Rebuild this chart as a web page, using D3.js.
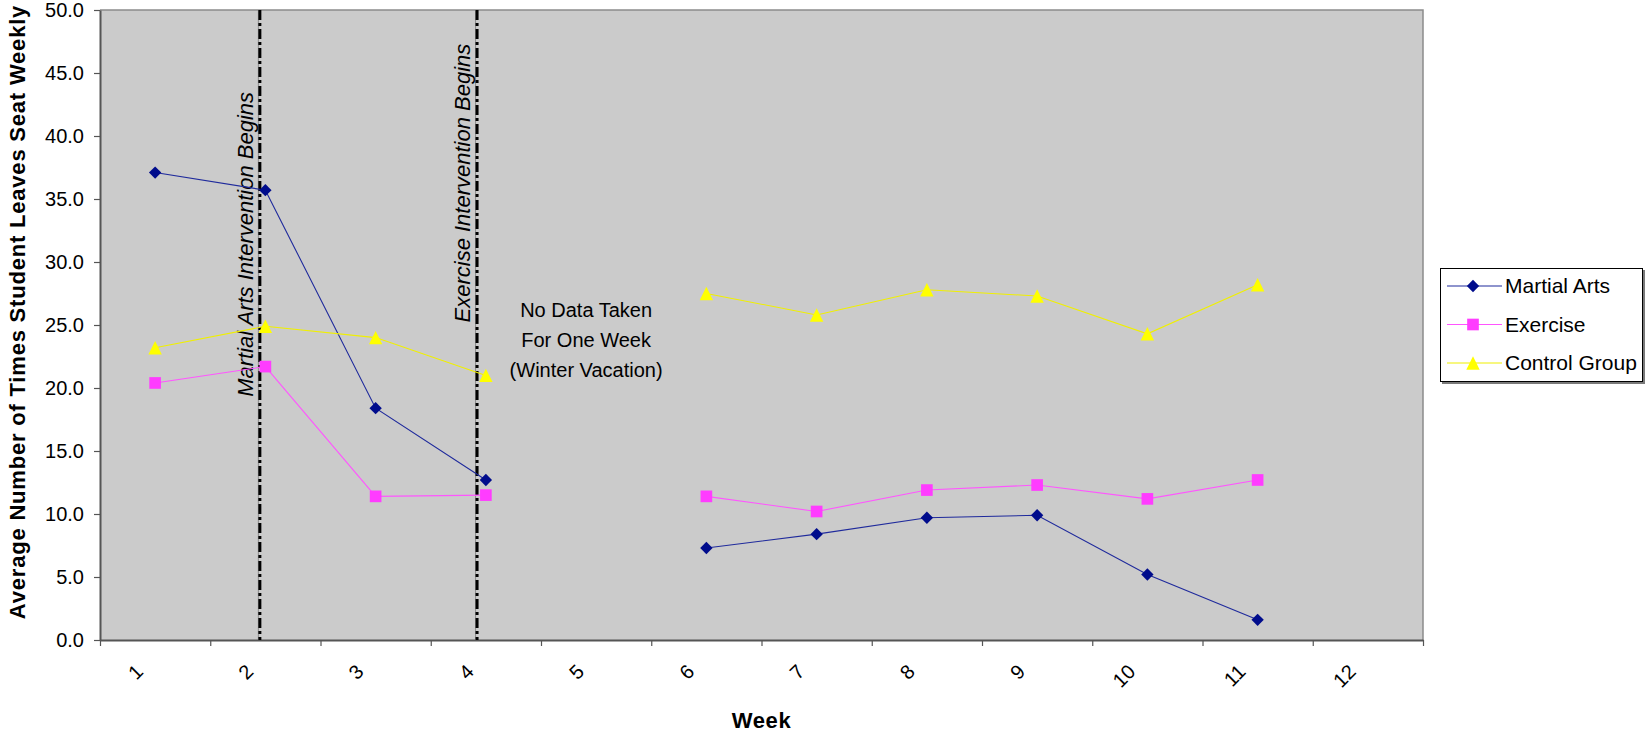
<!DOCTYPE html>
<html>
<head>
<meta charset="utf-8">
<script src="https://cdn.jsdelivr.net/npm/d3@7"></script>
<style>
  html, body { margin: 0; padding: 0; background: #ffffff; }
  svg { display: block; font-family: "Liberation Sans", Arial, Helvetica, sans-serif; }
</style>
</head>
<body>
<svg id="chart" width="1648" height="735"></svg>
<script>
// Weekly seat-leaving counts for three groups (week 5: no data, winter vacation)
const weeks = [1, 2, 3, 4, 5, 6, 7, 8, 9, 10, 11, 12];
const martialArts  = [37.1, 35.7, 18.4, 12.7, null, 7.3, 8.4, 9.7, 9.9, 5.2, 1.6, null];
const exercise     = [20.4, 21.7, 11.4, 11.5, null, 11.4, 10.2, 11.9, 12.3, 11.2, 12.7, null];
const controlGroup = [23.2, 24.9, 24.0, 21.0, null, 27.5, 25.8, 27.8, 27.3, 24.3, 28.2, null];
const seriesNames  = ["Martial Arts", "Exercise", "Control Group"];
const yTicks = [0, 5, 10, 15, 20, 25, 30, 35, 40, 45, 50];

// Intervention start markers (positions on the week axis) and their labels
const interventionWeeks  = [1.95, 3.92];
const interventionLabels = ["Martial Arts Intervention Begins", "Exercise Intervention Begins"];
const interventionLabelAt = [19.3, 25.2];
const gapNote = ["No Data Taken", "For One Week", "(Winter Vacation)"];

const svg = d3.select("#chart");
const plot = { left: 100, right: 1423, top: 10, bottom: 640 };

// Week position: integer weeks sit at the centre of their category slot
const x = d3.scaleLinear().domain([0.5, 12.5]).range([plot.left, plot.right]);
const y = d3.scaleLinear().domain([0, 50]).range([plot.bottom, plot.top]);

// Plot area
svg.append("rect")
  .attr("x", plot.left).attr("y", plot.top)
  .attr("width", plot.right - plot.left).attr("height", plot.bottom - plot.top)
  .attr("fill", "#cbcbcb");
svg.append("path")
  .attr("d", `M${plot.left},${plot.top}H${plot.right}V${plot.bottom}`)
  .attr("fill", "none").attr("stroke", "#8c8c8c").attr("stroke-width", 1.5);

// Y axis
const yAxis = svg.append("g")
  .attr("transform", `translate(${plot.left},0)`)
  .call(d3.axisLeft(y).tickValues(yTicks).tickFormat(d3.format(".1f")).tickSize(6).tickSizeOuter(0));
yAxis.select(".domain").attr("stroke", "#555").attr("stroke-width", 2);
yAxis.selectAll(".tick line").attr("stroke", "#555").attr("stroke-width", 1.2);
yAxis.selectAll(".tick text")
  .attr("x", -16).attr("dy", "0.32em")
  .attr("font-size", 20).attr("fill", "#000")
  .attr("font-family", "Liberation Sans, Arial, sans-serif");

// X axis: tick marks on category boundaries, labels at category centres
const boundaries = d3.range(0.5, 12.51, 1);
const xAxis = svg.append("g")
  .attr("transform", `translate(0,${plot.bottom})`)
  .call(d3.axisBottom(x).tickValues(boundaries).tickFormat("").tickSize(6).tickSizeOuter(0));
xAxis.select(".domain").attr("stroke", "#555").attr("stroke-width", 2);
xAxis.selectAll(".tick line").attr("stroke", "#555").attr("stroke-width", 1.2);

svg.append("g").selectAll("text")
  .data(weeks).join("text")
  .attr("transform", d => `translate(${x(d) - 10.7},${plot.bottom + 33}) rotate(-45)`)
  .attr("text-anchor", "end")
  .attr("font-size", 20).attr("fill", "#000")
  .text(d => d);

// Axis titles
svg.append("text")
  .attr("x", (plot.left + plot.right) / 2).attr("y", 728)
  .attr("text-anchor", "middle").attr("font-weight", "bold").attr("font-size", 22)
  .attr("letter-spacing", 0.6)
  .text("Week");
svg.append("text")
  .attr("transform", "translate(25,312) rotate(-90)")
  .attr("text-anchor", "middle").attr("font-weight", "bold").attr("font-size", 22)
  .attr("letter-spacing", 0.8)
  .text("Average Number of Times Student Leaves Seat Weekly");

// Intervention lines and labels
interventionWeeks.forEach((w, i) => {
  svg.append("line")
    .attr("x1", x(w) - 1.5).attr("x2", x(w) - 1.5)
    .attr("y1", plot.top).attr("y2", plot.bottom)
    .attr("stroke", "#8a8a8a").attr("stroke-width", 1);
  svg.append("line")
    .attr("x1", x(w)).attr("x2", x(w))
    .attr("y1", plot.top).attr("y2", plot.bottom)
    .attr("stroke", "#000").attr("stroke-width", 3)
    .attr("stroke-dasharray", "10,3,3,3");
  svg.append("text")
    .attr("transform", `translate(${x(w) - 7},${y(interventionLabelAt[i])}) rotate(-90)`)
    .attr("font-style", "italic").attr("font-size", 22).attr("fill", "#000")
    .text(interventionLabels[i]);
});

// Note over the missing week
svg.append("text")
  .attr("x", x(5) - 10).attr("y", 317)
  .attr("text-anchor", "middle").attr("font-size", 20).attr("fill", "#000")
  .selectAll("tspan").data(gapNote).join("tspan")
  .attr("x", x(5) - 10).attr("dy", (d, i) => i === 0 ? 0 : 30)
  .text(d => d);

// Marker shapes
const excelTriangle = {
  draw(ctx, size) {
    const h = Math.sqrt(size) / 2;
    ctx.moveTo(0, -h); ctx.lineTo(h, h); ctx.lineTo(-h, h); ctx.closePath();
  }
};
const seriesStyle = [
  { values: martialArts,  line: "#1f2a9c", fill: "#000c8c", symbol: d3.symbol(d3.symbolSquare, 76), rotate: 45 },
  { values: exercise,     line: "#ff55ff", fill: "#ff3cff", symbol: d3.symbol(d3.symbolSquare, 136), rotate: 0 },
  { values: controlGroup, line: "#f0f000", fill: "#ffff00", symbol: d3.symbol(excelTriangle, 180), rotate: 0 }
];

const line = d3.line()
  .defined(d => d.v != null)
  .x(d => x(d.w)).y(d => y(d.v));

seriesStyle.forEach(s => {
  const pts = weeks.map((w, i) => ({ w, v: s.values[i] }));
  svg.append("path")
    .datum(pts)
    .attr("d", line)
    .attr("fill", "none").attr("stroke", s.line).attr("stroke-width", 1.1);
  svg.append("g").selectAll("path")
    .data(pts.filter(d => d.v != null)).join("path")
    .attr("transform", d => `translate(${x(d.w)},${y(d.v)}) rotate(${s.rotate})`)
    .attr("d", s.symbol)
    .attr("fill", s.fill);
});

// Legend
const legend = svg.append("g").attr("transform", "translate(1440,268)");
legend.append("rect").attr("x", 2).attr("y", 2).attr("width", 203).attr("height", 114).attr("fill", "#7a7a7a");
legend.append("rect").attr("x", 0.5).attr("y", 0.5).attr("width", 202).attr("height", 113)
  .attr("fill", "#fff").attr("stroke", "#000").attr("stroke-width", 1);
const rowY = d3.scalePoint().domain(seriesNames).range([18, 95]);
seriesNames.forEach((name, i) => {
  const s = seriesStyle[i];
  const g = legend.append("g").attr("transform", `translate(0,${rowY(name)})`);
  g.append("line").attr("x1", 7).attr("x2", 62).attr("y1", 0).attr("y2", 0)
    .attr("stroke", s.line).attr("stroke-width", 1.2);
  g.append("path").attr("transform", `translate(33,0) rotate(${s.rotate})`)
    .attr("d", s.symbol).attr("fill", s.fill);
  g.append("text").attr("x", 65).attr("y", 7).attr("font-size", 21).attr("fill", "#000").text(name);
});
</script>
</body>
</html>
